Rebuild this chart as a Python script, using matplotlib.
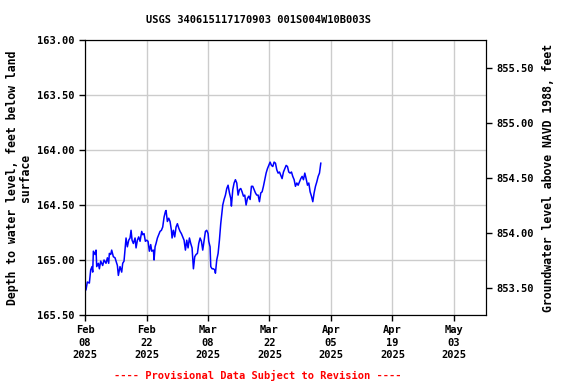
import matplotlib
matplotlib.use("Agg")
import matplotlib.pyplot as plt
import numpy as np
import pandas as pd

# days since 2025-02-08 00:00 and depth to water (ft below land surface)
days = [0.23, 0.53, 0.99, 1.14, 1.29, 1.59, 1.75, 1.90, 2.28, 2.51, 2.66, 3.04, 3.27, 3.57,
        4.02, 4.33, 4.78, 5.09, 5.39, 5.54, 5.85, 6.07, 6.45, 6.83, 7.06, 7.37, 7.59, 7.97,
        8.35, 8.58, 8.88, 9.11, 9.34, 9.64, 9.95, 10.25, 10.48, 10.71, 11.01, 11.39, 11.62,
        11.92, 12.22, 12.53, 12.91, 13.14, 13.44, 13.74, 14.05, 14.35, 14.65, 14.96, 15.19,
        15.57, 15.72, 15.95, 16.17, 16.48, 16.78, 17.08, 17.39, 17.69, 18.00, 18.30, 18.45,
        18.75, 19.06, 19.36, 19.67, 19.82, 20.12, 20.42, 20.73, 21.03, 21.34, 21.64, 21.94,
        22.25, 22.55, 22.86, 23.16, 23.46, 23.77, 24.07, 24.37, 24.68, 24.98, 25.28, 25.59,
        25.89, 26.20, 26.50, 26.80, 27.11, 27.41, 27.71, 28.02, 28.17, 28.47, 28.63, 28.93,
        29.23, 29.54, 29.69, 29.99, 30.30, 30.60, 30.90, 31.21, 31.36, 31.66, 31.97, 32.27,
        32.57, 32.88, 33.18, 33.33, 33.64, 33.94, 34.24, 34.55, 34.85, 35.16, 35.46, 35.76,
        36.07, 36.37, 36.67, 36.98, 37.28, 37.59, 37.89, 38.19, 38.50, 38.80, 39.10, 39.41,
        39.71, 40.02, 40.32, 40.62, 40.93, 41.23, 41.53, 41.84, 42.14, 42.45, 42.75, 43.05,
        43.36, 43.66, 43.96, 44.27, 44.57, 44.87, 45.18, 45.48, 45.79, 46.09, 46.39, 46.70,
        47.00, 47.30, 47.61, 47.91, 48.22, 48.52, 48.82, 49.13, 49.43, 49.73, 50.04, 50.34,
        50.65, 50.95, 51.25, 51.56, 51.86, 52.16, 52.47, 52.77, 53.08, 53.38, 53.68]
depth = [165.27, 165.20, 165.21, 165.15, 165.09, 165.06, 165.11, 164.92, 164.95, 164.91, 165.06,
         165.03, 165.08, 165.01, 165.05, 165.00, 165.03, 164.98, 165.03, 164.94, 164.95, 164.91,
         164.97, 164.98, 165.01, 165.05, 165.14, 165.06, 165.11, 165.03, 165.01, 164.91, 164.80,
         164.88, 164.82, 164.80, 164.73, 164.82, 164.85, 164.80, 164.89, 164.82, 164.79, 164.83,
         164.74, 164.77, 164.76, 164.83, 164.82, 164.83, 164.92, 164.86, 164.92, 164.91, 165.00,
         164.88, 164.85, 164.80, 164.77, 164.74, 164.73, 164.70, 164.61, 164.56, 164.55, 164.65,
         164.62, 164.65, 164.73, 164.80, 164.73, 164.79, 164.70, 164.67, 164.71, 164.74, 164.76,
         164.79, 164.82, 164.91, 164.82, 164.89, 164.80, 164.85, 164.89, 165.08, 164.97, 164.95,
         164.94, 164.85, 164.80, 164.83, 164.91, 164.82, 164.74, 164.73, 164.76, 164.83, 164.88,
         165.06, 165.08, 165.08, 165.09, 165.12, 165.00, 164.94, 164.82, 164.67, 164.56, 164.50,
         164.45, 164.41, 164.35, 164.32, 164.39, 164.44, 164.51, 164.36, 164.30, 164.27, 164.30,
         164.41, 164.36, 164.35, 164.38, 164.42, 164.41, 164.50, 164.44, 164.42, 164.45, 164.33,
         164.33, 164.36, 164.39, 164.41, 164.41, 164.47, 164.39, 164.38, 164.33, 164.27, 164.21,
         164.17, 164.14, 164.11, 164.14, 164.15, 164.11, 164.12, 164.18, 164.21, 164.20, 164.23,
         164.26, 164.20, 164.17, 164.14, 164.15, 164.20, 164.21, 164.20, 164.24, 164.27, 164.33,
         164.30, 164.32, 164.29, 164.26, 164.24, 164.27, 164.21, 164.26, 164.32, 164.30, 164.38,
         164.42, 164.47, 164.39, 164.33, 164.29, 164.24, 164.21, 164.12]

start = pd.Timestamp("2025-02-08")
times = start + pd.to_timedelta(days, unit="D")
datum_offset = 1018.755  # land surface elevation, ft NAVD88

tick_dates = pd.date_range("2025-02-08", periods=7, freq="14D")

font = {"family": "DejaVu Sans Mono", "weight": "bold", "size": 7.5}
label_font = dict(font, size=8.3)

fig = plt.figure(figsize=(5.76, 3.84), dpi=100)
ax = fig.add_axes([0.1476, 0.1797, 0.6962, 0.7161])

ax.plot(times, depth, color="#0000ff", linewidth=1.1)
ax.set_xlim(start, start + pd.Timedelta(days=91.3))
ax.set_ylim(165.5, 163.0)
lt = np.arange(163.0, 165.51, 0.5)
ax.set_yticks(lt)
ax.set_yticklabels([f"{v:.2f}" for v in lt], **font)
ax.set_xticks(tick_dates)
ax.set_xticklabels([d.strftime("%b\n%d\n%Y") for d in tick_dates], **font, linespacing=1.3)
ax.grid(True, color="#cccccc", linewidth=1)
ax.tick_params(direction="out", length=4, width=1)
ax.set_ylabel("Depth to water level, feet below land\nsurface", **label_font,
              linespacing=1.0, labelpad=4)

ax2 = ax.twinx()
ax2.set_ylim(datum_offset - 165.5, datum_offset - 163.0)
rt = np.arange(853.5, 855.51, 0.5)
ax2.set_yticks(rt)
ax2.set_yticklabels([f"{v:.2f}" for v in rt], **font)
ax2.tick_params(direction="out", length=4, width=1)
ax2.set_ylabel("Groundwater level above NAVD 1988, feet", **label_font, labelpad=6)

fig.text(0.448, 0.948, "USGS 340615117170903 001S004W10B003S", ha="center", va="center", **font)
fig.text(0.448, 0.023, "---- Provisional Data Subject to Revision ----", ha="center", va="center",
         color="red", **font)

fig.savefig("out.png", dpi=100)
